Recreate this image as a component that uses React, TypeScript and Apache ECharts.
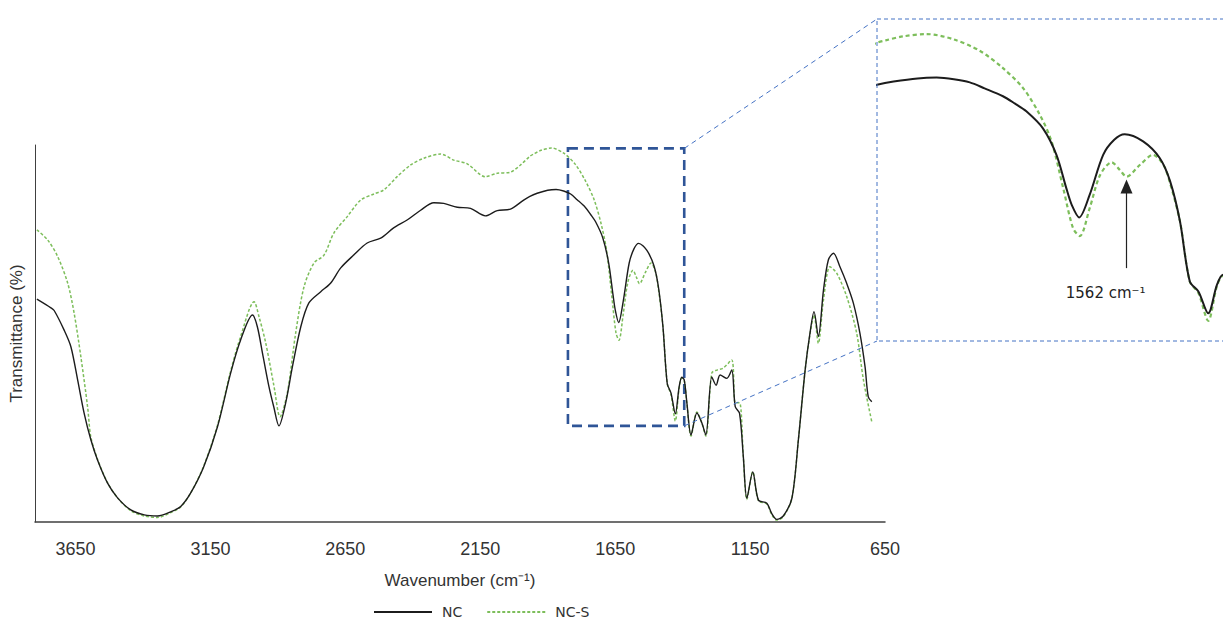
import React, { useEffect, useRef } from "react";
import * as echarts from "echarts";

// x tick labels (wavenumber, cm-1), axis runs from 3800 (left) to 650 (right)
const X_TICKS = [3650, 3150, 2650, 2150, 1650, 1150, 650];
const X_MIN = 650;
const X_MAX = 3800;

// NC (black solid)
const NC_WN = [
  3793, 3741, 3729, 3692, 3667, 3642, 3618, 3593, 3568, 3531, 3494, 3445, 3395, 3346, 3297, 3260,
  3223, 3175, 3124, 3075, 3038, 2994, 2976, 2957, 2933, 2915, 2896, 2871, 2846, 2815, 2785, 2741,
  2704, 2667, 2619, 2569, 2519, 2471, 2421, 2371, 2322, 2285, 2235, 2186, 2131, 2087, 2038, 1989,
  1966, 1939, 1900, 1869, 1841, 1815, 1791, 1761, 1742, 1723, 1696, 1674, 1658, 1649, 1637, 1620,
  1598, 1580, 1563, 1533, 1506, 1489, 1473, 1457, 1443, 1427, 1413, 1403, 1394, 1384, 1369, 1347,
  1329, 1314, 1292, 1276, 1261, 1236, 1218, 1205, 1189, 1175, 1162, 1140, 1119, 1088, 1070, 1051,
  1027, 995, 971, 946, 928, 913, 897, 878, 860, 841, 817, 792, 767, 743, 724, 712, 699,
];
const NC_T = [
  59.1, 56.8, 56.1, 50.9, 46.5, 37.7, 28.9, 21.8, 16.4, 10.3, 6.4, 3.2, 1.9, 1.6, 2.7, 4.1,
  7.7, 14.6, 25.2, 39.5, 48.3, 54.9, 51.8, 44.8, 35.9, 30.5, 25.5, 31.6, 41.2, 51.8, 58.1, 61.1,
  63.4, 67.4, 70.8, 74.0, 75.3, 78.0, 80.1, 82.7, 84.7, 84.5, 83.5, 83.2, 81.2, 82.6, 83.0, 85.4,
  86.4, 87.2, 88.0, 88.2, 87.8, 87.0, 85.5, 83.5, 81.7, 79.7, 75.4, 68.7, 60.3, 56.0, 52.9, 58.6,
  68.7, 72.5, 73.9, 72.1, 67.9, 62.0, 51.9, 36.7, 34.2, 28.7, 35.8, 38.4, 37.7, 31.5, 23.1, 28.9,
  26.3, 23.1, 38.5, 36.3, 39.0, 38.1, 40.3, 30.6, 28.8, 17.3, 6.3, 13.3, 5.8, 5.0, 2.3, 0.7,
  1.6, 6.3, 21.8, 40.3, 50.1, 55.8, 49.2, 61.5, 69.5, 71.3, 67.7, 63.3, 58.0, 50.1, 41.2, 33.2, 31.9,
];

// NC-S (green dotted)
const NCS_WN = [
  3793, 3753, 3716, 3679, 3655, 3630, 3605, 3593, 3568, 3531, 3494, 3445, 3395, 3346, 3297, 3260,
  3223, 3175, 3124, 3075, 3038, 2988, 2970, 2945, 2914, 2892, 2865, 2834, 2803, 2766, 2729, 2692,
  2643, 2593, 2544, 2507, 2458, 2408, 2359, 2297, 2248, 2198, 2131, 2087, 2038, 2001, 1966, 1952,
  1924, 1886, 1842, 1799, 1761, 1728, 1701, 1682, 1663, 1647, 1636, 1620, 1603, 1584, 1571, 1560,
  1538, 1517, 1500, 1489, 1473, 1457, 1443, 1427, 1413, 1403, 1394, 1384, 1369, 1347, 1329, 1314,
  1292, 1273, 1250, 1218, 1205, 1189, 1175, 1162, 1140, 1119, 1088, 1070, 1051, 1027, 995, 971,
  946, 928, 913, 897, 878, 854, 829, 792, 755, 730, 699,
];
const NCS_T = [
  77.5, 74.8, 70.4, 63.4, 55.4, 43.8, 30.5, 22.5, 16.6, 10.4, 6.4, 3.0, 1.6, 1.2, 2.5, 4.0,
  7.7, 14.8, 25.6, 40.0, 49.2, 58.4, 54.5, 47.5, 35.9, 27.9, 34.2, 50.1, 62.4, 68.7, 70.8, 76.7,
  81.0, 85.4, 87.0, 88.1, 91.6, 94.7, 96.5, 97.6, 96.0, 95.0, 91.6, 92.5, 92.8, 94.7, 97.0, 97.6,
  98.6, 99.2, 97.9, 95.0, 90.6, 85.5, 78.8, 72.1, 60.3, 50.2, 48.2, 55.2, 63.6, 66.8, 64.9, 63.2,
  66.2, 68.7, 66.2, 61.5, 51.9, 36.7, 33.8, 26.8, 35.5, 38.2, 37.5, 31.3, 22.8, 29.2, 26.3, 22.8,
  39.5, 40.3, 40.8, 43.0, 31.6, 31.6, 17.3, 6.0, 13.3, 5.6, 4.8, 2.0, 0.5, 1.4, 6.3, 21.8,
  40.3, 49.8, 54.9, 47.4, 58.9, 67.7, 66.0, 59.8, 50.1, 37.7, 26.6,
];

// zoomed region (main chart box) and inset ranges
const ZOOM_WN = [1825, 1394];
const ZOOM_T = [25.5, 99.1];
const INSET_WN = [1403, 1966];
const INSET_T = [21.7, 103];
const ARROW_WN = 1560;
const ARROW_T = [40.1, 60.7];
const ARROW_LABEL = "1562 cm\u207B\u00B9";
const ARROW_LABEL_POS = [1594, 33.8];

const BLACK = "#1c1c1c";
const GREEN = "#7DBE5B";
const TEXT = "#333333";

const zip = (xs: number[], ys: number[]) => xs.map((x, i) => [x, ys[i]]);

export default function App() {
  const ref = useRef<HTMLDivElement>(null);

  useEffect(() => {
    const chart = echarts.init(ref.current!, null, { renderer: "svg" });
    const nc = zip(NC_WN, NC_T);
    const ncs = zip(NCS_WN, NCS_T);

    chart.setOption({
      animation: false,
      backgroundColor: "#ffffff",
      grid: [
        { left: 34, top: 145, width: 851, height: 377 },
        { left: 877, top: 19, right: 0, height: 322 },
      ],
      legend: {
        data: ["NC", "NC-S"],
        left: 368,
        bottom: 2,
        itemWidth: 58,
        itemHeight: 10,
        itemGap: 24,
        itemStyle: { opacity: 0 },
        textStyle: { fontFamily: "DejaVu Sans", fontSize: 14, color: TEXT, padding: [0, 0, 0, 5] },
      },
      xAxis: [
        {
          type: "value",
          gridIndex: 0,
          min: X_MIN,
          max: X_MAX,
          interval: 50,
          inverse: true,
          name: "Wavenumber (cm\u207B\u00B9)",
          nameLocation: "middle",
          nameGap: 50,
          nameTextStyle: { fontFamily: "Liberation Sans", fontSize: 17, color: TEXT },
          axisLine: { show: true, lineStyle: { color: "#404040", width: 1.5 } },
          axisTick: { show: false },
          splitLine: { show: false },
          axisLabel: {
            margin: 18,
            fontFamily: "Liberation Sans",
            fontSize: 18,
            color: TEXT,
            formatter: (v: number) => (X_TICKS.includes(v) ? String(v) : ""),
          },
        },
        {
          type: "value",
          gridIndex: 1,
          min: INSET_WN[0],
          max: INSET_WN[1],
          inverse: true,
          show: false,
        },
      ],
      yAxis: [
        {
          type: "value",
          gridIndex: 0,
          min: 0,
          max: 100,
          name: "Transmittance (%)",
          nameLocation: "middle",
          nameGap: 10,
          nameTextStyle: { fontFamily: "Liberation Sans", fontSize: 17, color: TEXT },
          axisLine: { show: true, lineStyle: { color: "#404040", width: 1 } },
          axisTick: { show: false },
          axisLabel: { show: false },
          splitLine: { show: false },
        },
        {
          type: "value",
          gridIndex: 1,
          min: INSET_T[0],
          max: INSET_T[1],
          show: false,
        },
      ],
      series: [
        {
          name: "NC",
          type: "line",
          xAxisIndex: 0,
          yAxisIndex: 0,
          data: nc,
          showSymbol: false,
          symbol: "none",
          smooth: 0.3,
          lineStyle: { color: BLACK, width: 1.4 },
          itemStyle: { color: BLACK },
          z: 3,
          markArea: {
            silent: true,
            itemStyle: {
              color: "rgba(0,0,0,0)",
              borderColor: "#2F5597",
              borderWidth: 2.6,
              borderType: [10, 6],
            },
            data: [[{ coord: [ZOOM_WN[0], ZOOM_T[1]] }, { coord: [ZOOM_WN[1], ZOOM_T[0]] }]],
          },
        },
        {
          name: "NC-S",
          type: "line",
          xAxisIndex: 0,
          yAxisIndex: 0,
          data: ncs,
          showSymbol: false,
          symbol: "none",
          smooth: 0.3,
          lineStyle: { color: GREEN, width: 1.5, type: [3, 2] },
          itemStyle: { color: GREEN },
          z: 2,
        },
        {
          name: "NC inset",
          type: "line",
          xAxisIndex: 1,
          yAxisIndex: 1,
          data: nc,
          showSymbol: false,
          symbol: "none",
          smooth: 0.3,
          lineStyle: { color: BLACK, width: 2 },
          z: 3,
        },
        {
          name: "NC-S inset",
          type: "line",
          xAxisIndex: 1,
          yAxisIndex: 1,
          data: ncs,
          showSymbol: false,
          symbol: "none",
          smooth: 0.3,
          lineStyle: { color: GREEN, width: 2.2, type: [4, 3] },
          z: 2,
          markLine: {
            silent: true,
            symbol: ["none", "triangle"],
            symbolSize: [12, 14],
            lineStyle: { color: "#222", width: 1.2, type: "solid" },
            label: { show: false },
            data: [[{ coord: [ARROW_WN, ARROW_T[0]] }, { coord: [ARROW_WN, ARROW_T[1]] }]],
          },
          markPoint: {
            silent: true,
            symbol: "circle",
            symbolSize: 1,
            itemStyle: { color: "rgba(0,0,0,0)" },
            label: {
              show: true,
              position: "inside",
              formatter: ARROW_LABEL,
              fontFamily: "DejaVu Sans",
              fontSize: 15,
              color: "#222",
            },
            data: [{ coord: ARROW_LABEL_POS }],
          },
        },
      ],
    });

    const tr = chart.convertToPixel({ xAxisIndex: 0, yAxisIndex: 0 }, [ZOOM_WN[1], ZOOM_T[1]]) as number[];
    const br = chart.convertToPixel({ xAxisIndex: 0, yAxisIndex: 0 }, [ZOOM_WN[1], ZOOM_T[0]]) as number[];
    const itl = chart.convertToPixel({ xAxisIndex: 1, yAxisIndex: 1 }, [INSET_WN[1], INSET_T[1]]) as number[];
    const ibl = chart.convertToPixel({ xAxisIndex: 1, yAxisIndex: 1 }, [INSET_WN[1], INSET_T[0]]) as number[];
    const thin = { stroke: "#4472C4", lineWidth: 1, lineDash: [5, 4], fill: "none" };

    chart.setOption({
      graphic: [
        { type: "line", shape: { x1: tr[0], y1: tr[1], x2: itl[0], y2: itl[1] }, style: thin, z: 10, silent: true },
        { type: "line", shape: { x1: br[0], y1: br[1], x2: ibl[0], y2: ibl[1] }, style: thin, z: 10, silent: true },
        {
          type: "rect",
          shape: { x: itl[0], y: itl[1], width: 500, height: ibl[1] - itl[1] },
          style: { ...thin, lineDash: [4, 3] },
          z: 10,
          silent: true,
        },
      ],
    });

    return () => chart.dispose();
  }, []);

  return (
    <div
      ref={ref}
      style={{ position: "absolute", left: 0, top: 0, width: 1223, height: 626 }}
    />
  );
}
